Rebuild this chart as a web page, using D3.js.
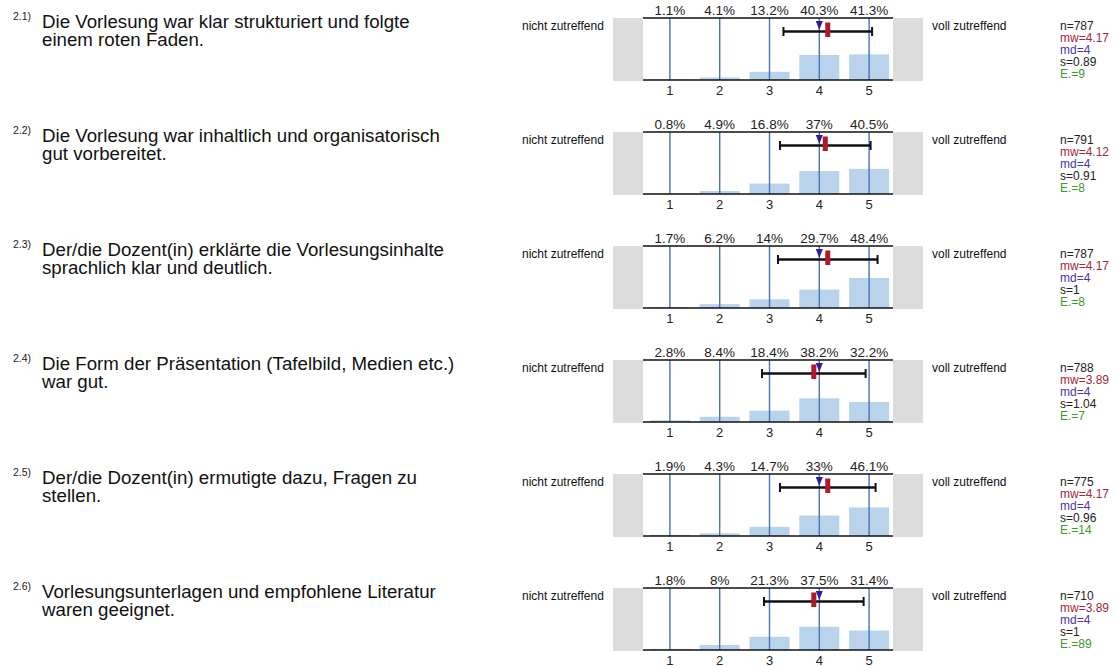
<!DOCTYPE html>
<html>
<head>
<meta charset="utf-8">
<script src="https://cdn.jsdelivr.net/npm/d3@7"></script>
<style>
  body { margin: 0; background: #fff; }
  text { font-family: "Liberation Sans", Arial, sans-serif; }
</style>
</head>
<body>
<div id="chart"></div>
<script>
// question numbers and texts (two lines each)
var numbers = ['2.1)', '2.2)', '2.3)', '2.4)', '2.5)', '2.6)'];
var questions = [
    ['Die Vorlesung war klar strukturiert und folgte', 'einem roten Faden.'],
    ['Die Vorlesung war inhaltlich und organisatorisch', 'gut vorbereitet.'],
    ['Der/die Dozent(in) erklärte die Vorlesungsinhalte', 'sprachlich klar und deutlich.'],
    ['Die Form der Präsentation (Tafelbild, Medien etc.)', 'war gut.'],
    ['Der/die Dozent(in) ermutigte dazu, Fragen zu', 'stellen.'],
    ['Vorlesungsunterlagen und empfohlene Literatur', 'waren geeignet.']
];
var scale = [1, 2, 3, 4, 5];
// percentage per answer 1..5
var percents = [
    [1.1, 4.1, 13.2, 40.3, 41.3],
    [0.8, 4.9, 16.8, 37, 40.5],
    [1.7, 6.2, 14, 29.7, 48.4],
    [2.8, 8.4, 18.4, 38.2, 32.2],
    [1.9, 4.3, 14.7, 33, 46.1],
    [1.8, 8, 21.3, 37.5, 31.4]
];
var nValues = [787, 791, 787, 788, 775, 710];
var means = [4.17, 4.12, 4.17, 3.89, 4.17, 3.89];
var medians = [4, 4, 4, 4, 4, 4];
var stdevs = [0.89, 0.91, 1, 1.04, 0.96, 1];
var abstentions = [9, 8, 8, 7, 14, 89];
var leftLabel = 'nicht zutreffend';
var rightLabel = 'voll zutreffend';

var width = 1118, height = 666;
var rowH = 114;
var plotTop = 18, plotBottom = 80;
var plotLeft = 643, plotRight = 893;

var svg = d3.select('#chart').append('svg')
    .attr('width', width)
    .attr('height', height);

var x = d3.scaleLinear().domain([0.5, 5.5]).range([645, 894]);
var y = d3.scaleLinear().domain([0, 100]).range([plotBottom, plotTop]);

var rows = svg.selectAll('.row')
    .data(questions)
    .enter().append('g')
    .attr('class', 'row')
    .attr('transform', function(d, i) { return 'translate(0,' + (i * rowH) + ')'; });

rows.each(function(q, i) {
    var g = d3.select(this);

    // question number + text
    g.append('text').text(numbers[i])
        .attr('x', 13).attr('y', 20)
        .style('font-size', '10.5px').style('fill', '#222');
    g.selectAll('.qline').data(q).enter().append('text')
        .attr('class', 'qline')
        .attr('x', 42)
        .attr('y', function(d, j) { return 27.5 + j * 18.5; })
        .text(function(d) { return d; })
        .style('font-size', '18.7px').style('fill', '#111');

    // side labels
    g.append('text').text(leftLabel)
        .attr('x', 522).attr('y', 30)
        .style('font-size', '12px').style('fill', '#111');
    g.append('text').text(rightLabel)
        .attr('x', 932).attr('y', 30)
        .style('font-size', '12px').style('fill', '#111');

    // gray boxes
    g.append('rect').attr('x', 613).attr('y', plotTop)
        .attr('width', plotLeft - 613).attr('height', plotBottom - plotTop + 1)
        .style('fill', '#dcdcdc');
    g.append('rect').attr('x', plotRight).attr('y', plotTop)
        .attr('width', 923 - plotRight).attr('height', plotBottom - plotTop + 1)
        .style('fill', '#dcdcdc');

    // bars
    g.selectAll('.bar').data(percents[i]).enter().append('rect')
        .attr('class', 'bar')
        .attr('x', function(d, j) { return x(scale[j]) - 20; })
        .attr('width', 40)
        .attr('y', function(d) { return y(d); })
        .attr('height', function(d) { return y(0) - y(d); })
        .style('fill', '#b9d3ec');

    // vertical lines
    g.selectAll('.vline').data(scale).enter().append('line')
        .attr('x1', function(d) { return x(d); })
        .attr('x2', function(d) { return x(d); })
        .attr('y1', plotTop).attr('y2', plotBottom)
        .style('stroke', '#4a72b6').style('stroke-width', 1.4);

    // top/bottom lines
    [plotTop, plotBottom].forEach(function(yy) {
        g.append('line').attr('x1', plotLeft).attr('x2', plotRight)
            .attr('y1', yy).attr('y2', yy)
            .style('stroke', '#111').style('stroke-width', 1.6);
    });

    // percent labels
    g.selectAll('.pct').data(percents[i]).enter().append('text')
        .attr('x', function(d, j) { return x(scale[j]); })
        .attr('y', 15)
        .attr('text-anchor', 'middle')
        .text(function(d) { return d + '%'; })
        .style('font-size', '13.5px').style('fill', '#222');

    // tick labels
    g.selectAll('.tick').data(scale).enter().append('text')
        .attr('x', function(d) { return x(d); })
        .attr('y', 95)
        .attr('text-anchor', 'middle')
        .text(function(d) { return d; })
        .style('font-size', '13px').style('fill', '#222');

    // std dev bar
    var ey = 31.5;
    var lo = x(means[i] - stdevs[i]), hi = x(means[i] + stdevs[i]);
    g.append('line').attr('x1', lo).attr('x2', hi).attr('y1', ey).attr('y2', ey)
        .style('stroke', '#111').style('stroke-width', 2.4);
    [lo, hi].forEach(function(xx) {
        g.append('line').attr('x1', xx).attr('x2', xx).attr('y1', ey - 4.5).attr('y2', ey + 4.5)
            .style('stroke', '#111').style('stroke-width', 2);
    });

    // median triangle
    var mx = x(medians[i]);
    g.append('path')
        .attr('d', 'M' + (mx - 3.5) + ',21 L' + (mx + 3.5) + ',21 L' + mx + ',30 Z')
        .style('fill', '#2b1d9c');

    // mean marker
    g.append('rect').attr('x', x(means[i]) - 2.5).attr('y', 22.5)
        .attr('width', 5).attr('height', 14.5)
        .style('fill', '#b0182c');

    // stats
    var stats = [
        {t: 'n=' + nValues[i], c: '#222'},
        {t: 'mw=' + means[i], c: '#a3283a'},
        {t: 'md=' + medians[i], c: '#4a35a8'},
        {t: 's=' + stdevs[i], c: '#222'},
        {t: 'E.=' + abstentions[i], c: '#3c9a2c'}
    ];
    g.selectAll('.stat').data(stats).enter().append('text')
        .attr('x', 1060)
        .attr('y', function(d, j) { return 29.5 + j * 12; })
        .text(function(d) { return d.t; })
        .style('font-size', '12px').style('fill', function(d) { return d.c; });
});
</script>
</body>
</html>
